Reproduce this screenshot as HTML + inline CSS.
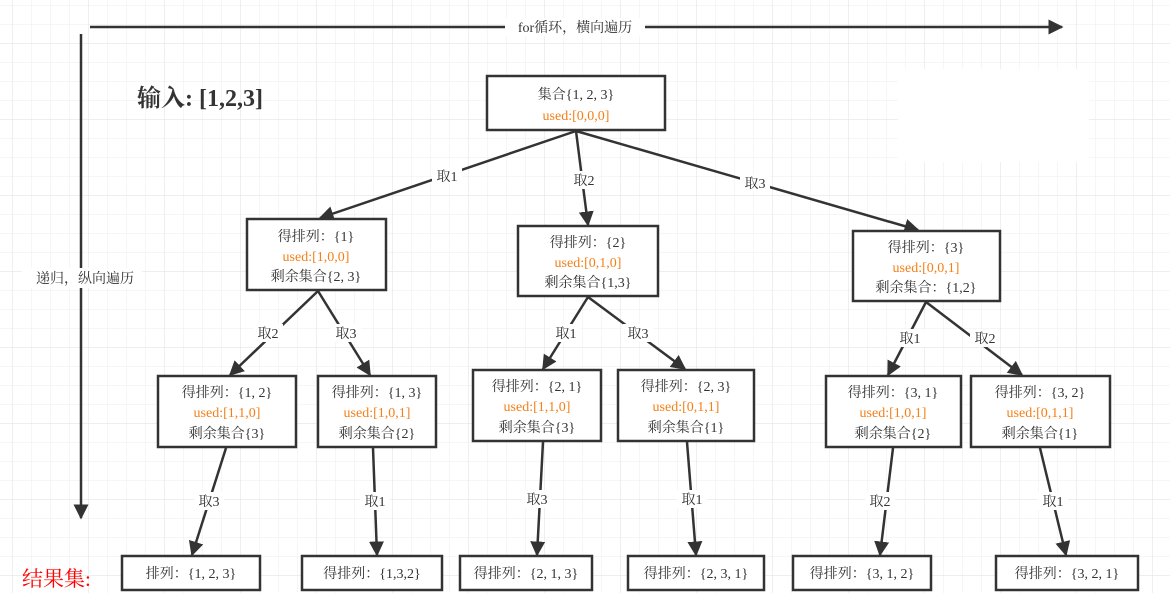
<!DOCTYPE html>
<html><head><meta charset="utf-8"><style>
html,body{margin:0;padding:0;background:#fff}
svg{display:block}
text{font-family:"Liberation Serif","Noto Serif CJK SC",serif;font-size:14px;fill:#333}
.o{fill:#f57f17}
.b{fill:#fff;stroke:#333;stroke-width:2.5}
.l{stroke:#333;stroke-width:2.5;fill:none}
.lb{fill:#333}
</style></head><body>
<svg width="1170" height="593" xmlns="http://www.w3.org/2000/svg">
<defs>
<pattern id="g" x="12" y="5" width="19" height="19" patternUnits="userSpaceOnUse"><path d="M0 0H19M0 0V19" stroke="#eeeeee" stroke-width="1" fill="none"/></pattern>
<pattern id="G" x="12" y="43" width="76" height="76" patternUnits="userSpaceOnUse"><path d="M0 0H76M0 0V76" stroke="#e4e4e4" stroke-width="1.2" fill="none"/></pattern>
<marker id="a" viewBox="0 0 10 10" refX="9" refY="5" markerWidth="6" markerHeight="6" orient="auto"><path d="M0 0L10 5L0 10z" fill="#333"/></marker>
</defs>
<rect width="1170" height="593" fill="url(#g)"/>
<rect width="1170" height="593" fill="url(#G)"/>
<rect x="898" y="69" width="191" height="93" fill="#fff"/>

<!-- axes -->
<line class="l" x1="90" y1="27" x2="1062" y2="27" marker-end="url(#a)"/>
<rect x="505" y="18" width="140" height="18" fill="#fff"/>
<text x="575" y="32" text-anchor="middle">for循环，横向遍历</text>
<line class="l" x1="81" y1="34" x2="81" y2="518" marker-end="url(#a)"/>
<rect x="22" y="268" width="120" height="20" fill="#fff"/>
<text x="85" y="283" text-anchor="middle">递归，纵向遍历</text>
<text x="137" y="106" style="font-size:24px;font-weight:bold;fill:#333">输入: [1,2,3]</text>
<text x="22" y="586" style="font-size:21px;fill:#f00">结果集:</text>

<!-- edges -->
<g class="l">
<line x1="576" y1="131" x2="320" y2="218" marker-end="url(#a)"/>
<line x1="576" y1="131" x2="588" y2="225" marker-end="url(#a)"/>
<line x1="576" y1="131" x2="918" y2="230" marker-end="url(#a)"/>
<line x1="318" y1="291" x2="230" y2="375" marker-end="url(#a)"/>
<line x1="318" y1="291" x2="370" y2="375" marker-end="url(#a)"/>
<line x1="588" y1="297" x2="543" y2="369" marker-end="url(#a)"/>
<line x1="588" y1="297" x2="685" y2="369" marker-end="url(#a)"/>
<line x1="926" y1="302" x2="888" y2="375" marker-end="url(#a)"/>
<line x1="926" y1="302" x2="1022" y2="375" marker-end="url(#a)"/>
<line x1="226" y1="448" x2="192" y2="555" marker-end="url(#a)"/>
<line x1="373" y1="448" x2="377" y2="555" marker-end="url(#a)"/>
<line x1="543" y1="442" x2="537" y2="555" marker-end="url(#a)"/>
<line x1="687" y1="442" x2="696" y2="555" marker-end="url(#a)"/>
<line x1="893" y1="448" x2="880" y2="555" marker-end="url(#a)"/>
<line x1="1040" y1="448" x2="1066" y2="555" marker-end="url(#a)"/>
</g>
<!-- edge labels -->
<g>
<rect x="432" y="167" width="30" height="18" fill="#fff"/><text x="447" y="181" text-anchor="middle">取1</text>
<rect x="569" y="171" width="30" height="18" fill="#fff"/><text x="584" y="185" text-anchor="middle">取2</text>
<rect x="740" y="174" width="30" height="18" fill="#fff"/><text x="755" y="188" text-anchor="middle">取3</text>
<rect x="253" y="324" width="30" height="18" fill="#fff"/><text x="268" y="338" text-anchor="middle">取2</text>
<rect x="331" y="324" width="30" height="18" fill="#fff"/><text x="346" y="338" text-anchor="middle">取3</text>
<rect x="551" y="324" width="30" height="18" fill="#fff"/><text x="566" y="338" text-anchor="middle">取1</text>
<rect x="623" y="324" width="30" height="18" fill="#fff"/><text x="638" y="338" text-anchor="middle">取3</text>
<rect x="895" y="329" width="30" height="18" fill="#fff"/><text x="910" y="343" text-anchor="middle">取1</text>
<rect x="970" y="329" width="30" height="18" fill="#fff"/><text x="985" y="343" text-anchor="middle">取2</text>
<rect x="194" y="492" width="30" height="18" fill="#fff"/><text x="209" y="506" text-anchor="middle">取3</text>
<rect x="360" y="492" width="30" height="18" fill="#fff"/><text x="375" y="506" text-anchor="middle">取1</text>
<rect x="522" y="490" width="30" height="18" fill="#fff"/><text x="537" y="504" text-anchor="middle">取3</text>
<rect x="677" y="490" width="30" height="18" fill="#fff"/><text x="692" y="504" text-anchor="middle">取1</text>
<rect x="865" y="492" width="30" height="18" fill="#fff"/><text x="880" y="506" text-anchor="middle">取2</text>
<rect x="1038" y="492" width="30" height="18" fill="#fff"/><text x="1053" y="506" text-anchor="middle">取1</text>
</g>

<!-- nodes -->
<rect class="b" x="487" y="76" width="178" height="54"/>
<text x="576" y="99" text-anchor="middle">集合{1, 2, 3}</text>
<text class="o" x="576" y="120" text-anchor="middle">used:[0,0,0]</text>

<rect class="b" x="247" y="219" width="139" height="71"/>
<text x="316" y="241" text-anchor="middle">得排列：{1}</text>
<text class="o" x="316" y="261" text-anchor="middle">used:[1,0,0]</text>
<text x="316" y="281" text-anchor="middle">剩余集合{2, 3}</text>

<rect class="b" x="518" y="226" width="140" height="70"/>
<text x="588" y="247" text-anchor="middle">得排列：{2}</text>
<text class="o" x="588" y="267" text-anchor="middle">used:[0,1,0]</text>
<text x="588" y="287" text-anchor="middle">剩余集合{1,3}</text>

<rect class="b" x="853" y="231" width="147" height="70"/>
<text x="926" y="252" text-anchor="middle">得排列：{3}</text>
<text class="o" x="926" y="272" text-anchor="middle">used:[0,0,1]</text>
<text x="926" y="292" text-anchor="middle">剩余集合：{1,2}</text>

<rect class="b" x="158" y="376" width="138" height="71"/>
<text x="227" y="397" text-anchor="middle">得排列：{1, 2}</text>
<text class="o" x="227" y="417" text-anchor="middle">used:[1,1,0]</text>
<text x="227" y="438" text-anchor="middle">剩余集合{3}</text>

<rect class="b" x="318" y="376" width="118" height="71"/>
<text x="377" y="397" text-anchor="middle">得排列：{1, 3}</text>
<text class="o" x="377" y="417" text-anchor="middle">used:[1,0,1]</text>
<text x="377" y="438" text-anchor="middle">剩余集合{2}</text>

<rect class="b" x="473" y="370" width="128" height="71"/>
<text x="537" y="391" text-anchor="middle">得排列：{2, 1}</text>
<text class="o" x="537" y="411" text-anchor="middle">used:[1,1,0]</text>
<text x="537" y="432" text-anchor="middle">剩余集合{3}</text>

<rect class="b" x="618" y="370" width="136" height="71"/>
<text x="686" y="391" text-anchor="middle">得排列：{2, 3}</text>
<text class="o" x="686" y="411" text-anchor="middle">used:[0,1,1]</text>
<text x="686" y="432" text-anchor="middle">剩余集合{1}</text>

<rect class="b" x="826" y="376" width="135" height="71"/>
<text x="893" y="397" text-anchor="middle">得排列：{3, 1}</text>
<text class="o" x="893" y="417" text-anchor="middle">used:[1,0,1]</text>
<text x="893" y="438" text-anchor="middle">剩余集合{2}</text>

<rect class="b" x="971" y="376" width="139" height="71"/>
<text x="1040" y="397" text-anchor="middle">得排列：{3, 2}</text>
<text class="o" x="1040" y="417" text-anchor="middle">used:[0,1,1]</text>
<text x="1040" y="438" text-anchor="middle">剩余集合{1}</text>

<rect class="b" x="122" y="556" width="138" height="34"/>
<text x="191" y="578" text-anchor="middle">排列：{1, 2, 3}</text>
<rect class="b" x="302" y="556" width="140" height="34"/>
<text x="372" y="578" text-anchor="middle">得排列：{1,3,2}</text>
<rect class="b" x="460" y="556" width="132" height="34"/>
<text x="526" y="578" text-anchor="middle">得排列：{2, 1, 3}</text>
<rect class="b" x="628" y="556" width="136" height="34"/>
<text x="696" y="578" text-anchor="middle">得排列：{2, 3, 1}</text>
<rect class="b" x="793" y="556" width="138" height="34"/>
<text x="862" y="578" text-anchor="middle">得排列：{3, 1, 2}</text>
<rect class="b" x="996" y="556" width="142" height="34"/>
<text x="1067" y="578" text-anchor="middle">得排列：{3, 2, 1}</text>
</svg>
</body></html>
